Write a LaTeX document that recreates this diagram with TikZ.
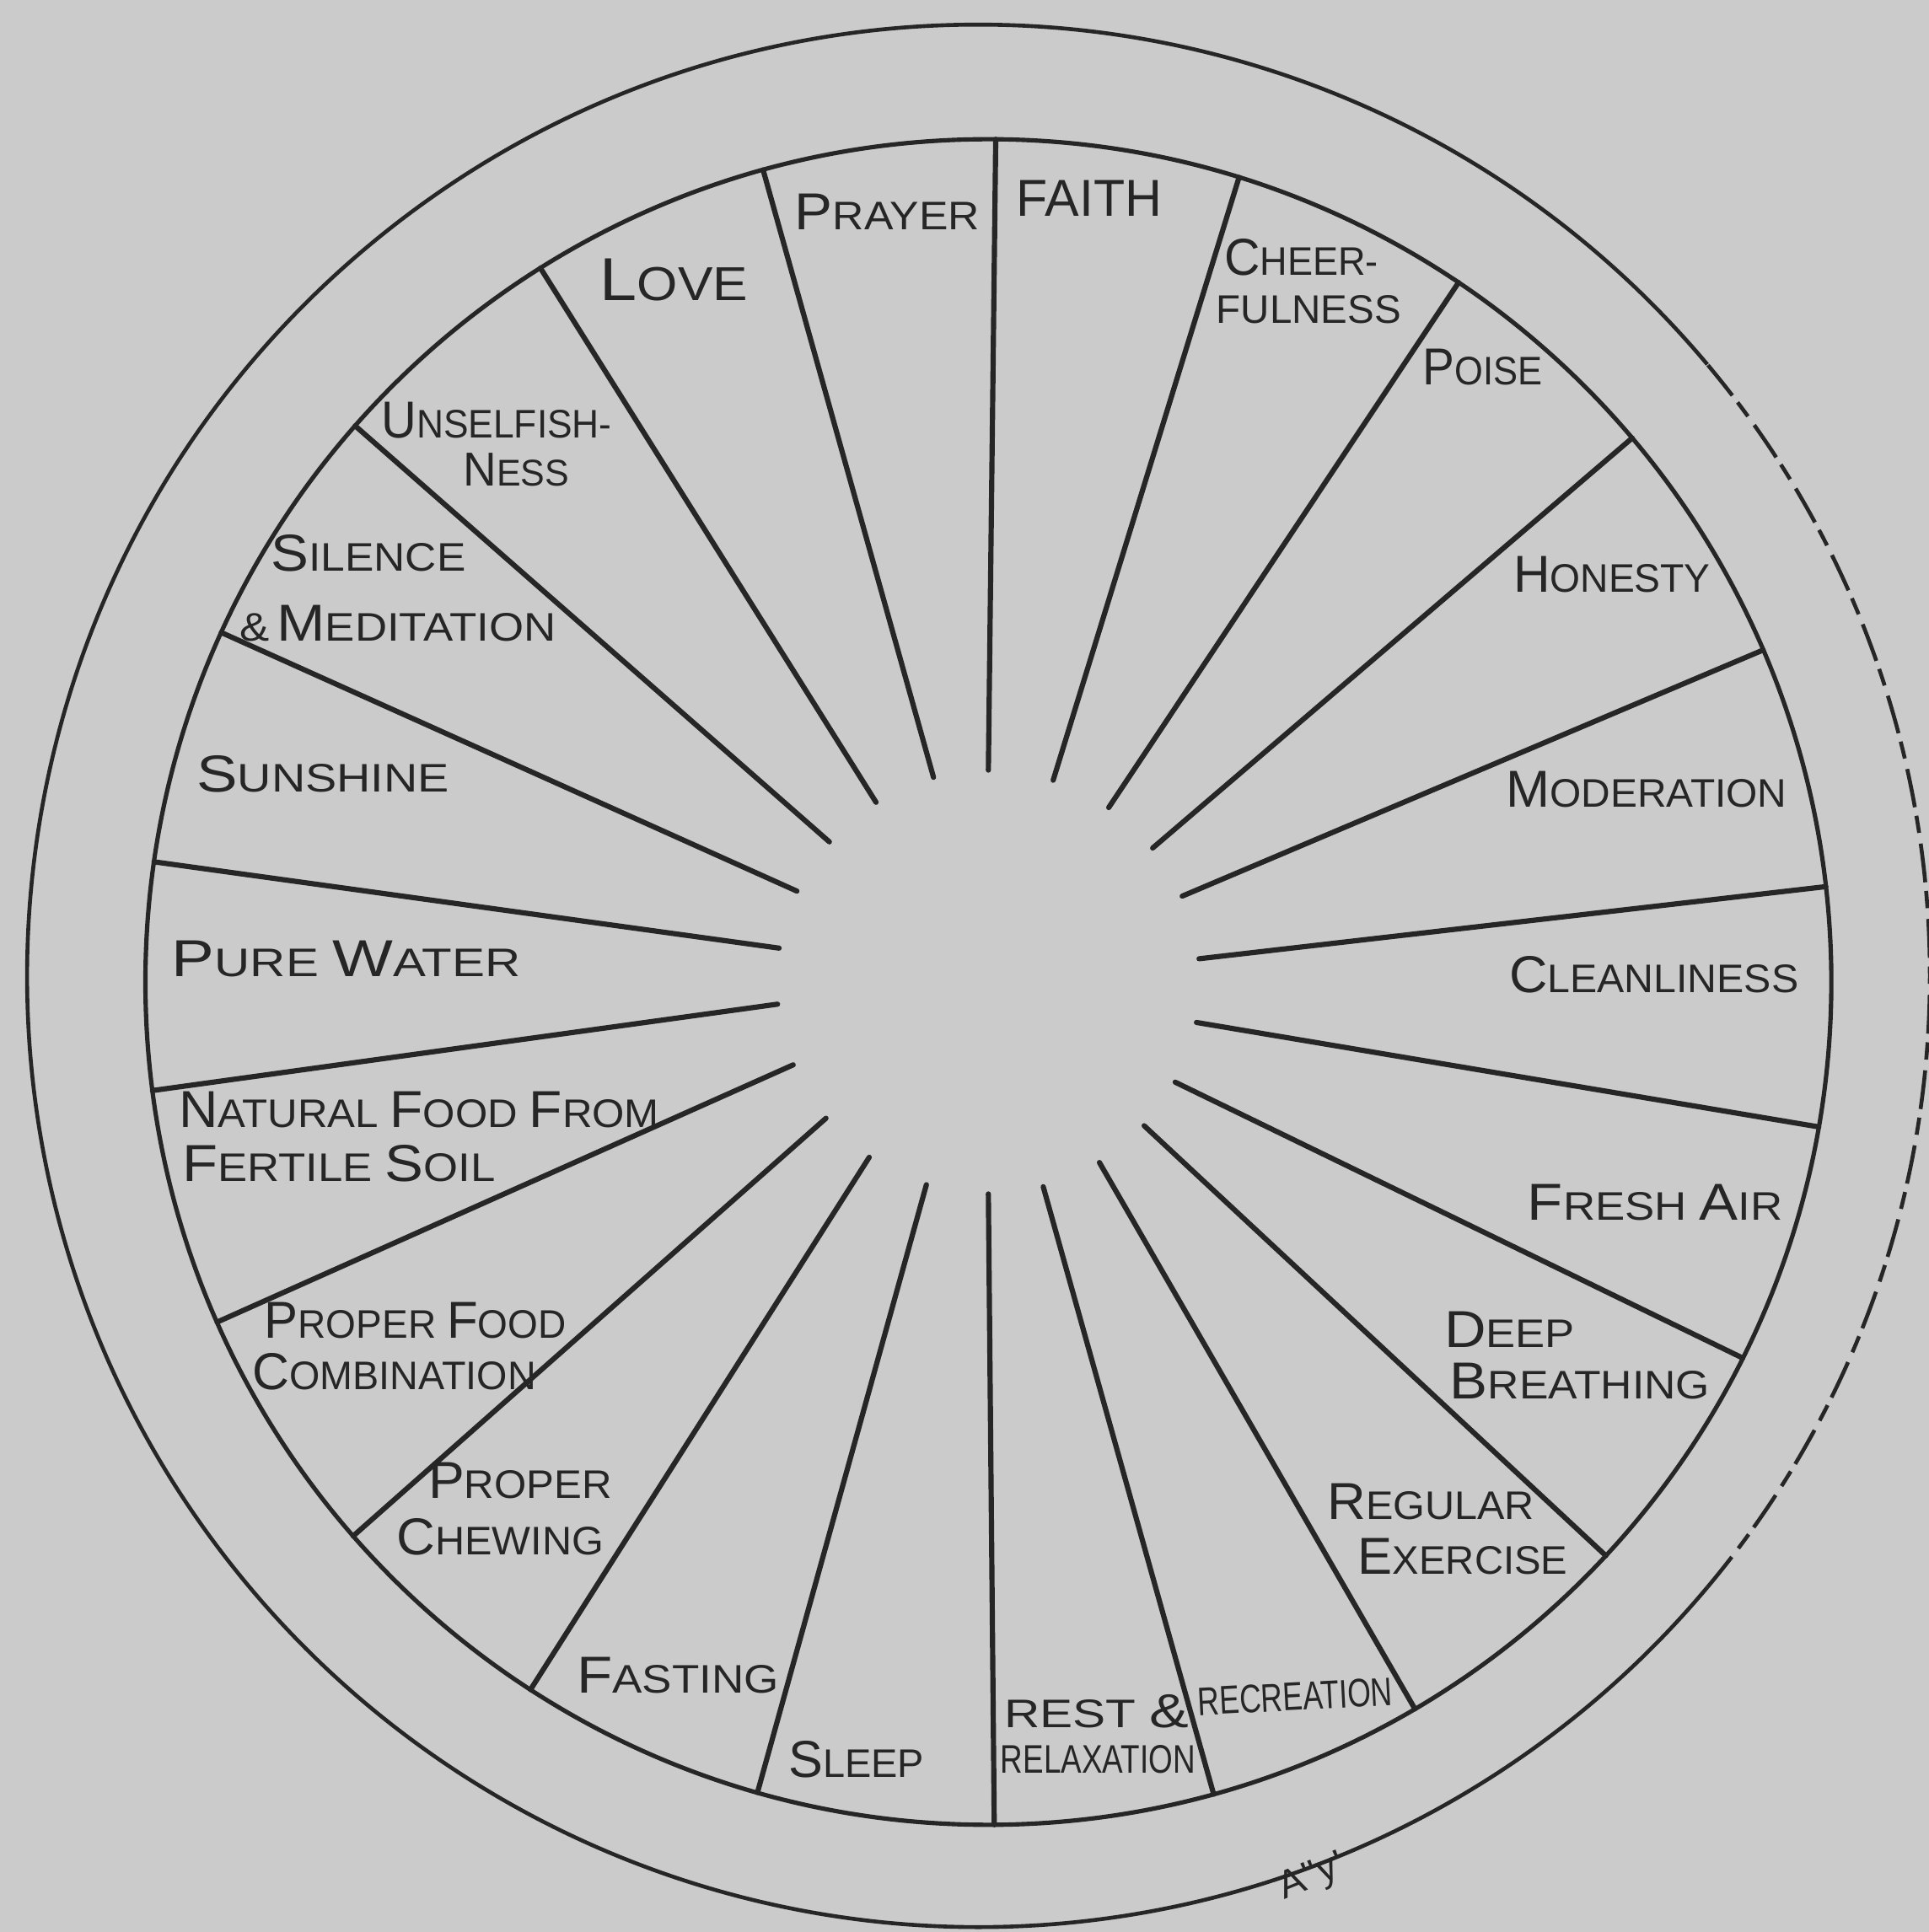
\documentclass[tikz,border=0pt]{standalone}
\usepackage{fontspec}
\setmainfont{Liberation Sans}
\usepackage{graphicx}
\newlength\pxu
\setlength\pxu{0.01cm}
\newcommand\B[1]{{\fontsize{12}{12}\selectfont #1}}
\newcommand\fit[2]{\resizebox{#1\pxu}{\height}{#2}}
\definecolor{paper}{RGB}{203,203,203}
\definecolor{ink}{RGB}{38,38,38}
\tikzset{
  lab/.style={inner sep=0pt, text=ink, font=\fontsize{9.2}{10}\selectfont},
  spoke/.style={draw=ink, line width=1.2pt, line cap=round},
  rimline/.style={draw=ink, line width=1pt},
  outerline/.style={draw=ink, line width=0.9pt}
}
\begin{document}
\begin{tikzpicture}
\useasboundingbox[fill=paper] (-8.02,-7.71) rectangle (7.63,7.97);
% outer circle
\draw[outerline] (-0.08,0.05) ++(40:7.72) arc[start angle=40, end angle=320, radius=7.72];
\draw[outerline, dash pattern=on 9pt off 2.5pt on 4pt off 2pt] (-0.08,0.05) ++(-40:7.72) arc[start angle=-40, end angle=40, radius=7.72];
% rim
\draw[rimline] (0,0) circle[radius=6.84];
% spokes
\foreach \a/\b in {90/89.5,105/105.5,122/122.1,138.6/138.7,154.6/155.5,170.8/171.8,
  186/187.4,203/203.8,220/221.1,235.8/237.1,253/254.1,270/270.4,285/285.5,
  301.6/300.4,317.3/317.1,331.8/333.5,349/350.1,6.3/6.5,23.9/23.2,39.2/40.2,
  55.4/56.1,72.2/72.7}
  \draw[spoke] (\a:1.72) -- (\b:6.84);
% labels
\node[lab] (prayer) at (-0.82,6.25) {\fit{150}{\B{P}RAYER}};
\node[lab] (faith) at (0.82,6.36) {\fit{118}{\B{FAITH}}};
\node[lab] (cheer) at (2.54,5.88) {\fit{125}{\B{C}HEER-}};
\node[lab] (fulness) at (2.60,5.46) {\fit{150}{FULNESS}};
\node[lab] (poise) at (4.01,4.99) {\fit{97}{\B{P}OISE}};
\node[lab] (honesty) at (5.06,3.31) {\fit{160}{\B{H}ONESTY}};
\node[lab] (moderation) at (5.34,1.56) {\fit{228}{\B{M}ODERATION}};
\node[lab] (cleanliness) at (5.40,0.06) {\fit{235}{\B{C}LEANLINESS}};
\node[lab] (freshair) at (5.41,-1.79) {\fit{207}{\B{F}RESH \B{A}IR}};
\node[lab] (deep) at (4.23,-2.82) {\fit{106}{\B{D}EEP}};
\node[lab] (breathing) at (4.80,-3.24) {\fit{211}{\B{B}REATHING}};
\node[lab] (regular) at (3.59,-4.22) {\fit{168}{\B{R}EGULAR}};
\node[lab] (exercise) at (3.85,-4.66) {\fit{170}{\B{E}XERCISE}};
\node[lab, rotate=3] (recreation) at (2.49,-5.80) {\fit{158}{RECREATION}};
\node[lab] (rest) at (0.88,-5.92) {\fit{150}{REST {\fontsize{11}{11}\selectfont\&}}};
\node[lab] (relaxation) at (0.89,-6.31) {\fit{158}{RELAXATION}};
\node[lab] (sleep) at (-1.07,-6.31) {\fit{110}{\B{S}LEEP}};
\node[lab] (fasting) at (-2.52,-5.63) {\fit{164}{\B{F}ASTING}};
\node[lab] (proper) at (-3.80,-4.05) {\fit{149}{\B{P}ROPER}};
\node[lab] (chewing) at (-3.96,-4.50) {\fit{168}{\B{C}HEWING}};
\node[lab] (properfood) at (-4.65,-2.75) {\fit{245}{\B{P}ROPER \B{F}OOD}};
\node[lab] (combination) at (-4.82,-3.16) {\fit{230}{\B{C}OMBINATION}};
\node[lab] (natural) at (-4.62,-1.04) {\fit{390}{\B{N}ATURAL \B{F}OOD \B{F}ROM}};
\node[lab] (fertile) at (-5.27,-1.47) {\fit{254}{\B{F}ERTILE \B{S}OIL}};
\node[lab] (purewater) at (-5.21,0.19) {\fit{283}{\B{P}URE \B{W}ATER}};
\node[lab] (sunshine) at (-5.40,1.69) {\fit{205}{\B{S}UNSHINE}};
\node[lab] (silence) at (-5.03,3.48) {\fit{158}{\B{S}ILENCE}};
\node[lab] (meditation) at (-4.79,2.91) {\fit{257}{\&\,\B{M}EDITATION}};
\node[lab] (unselfish) at (-3.99,4.56) {\fit{187}{\B{U}NSELFISH-}};
\node[lab, font=\fontsize{8.6}{9}\selectfont] (ness) at (-3.83,4.16) {\fit{86}{{\fontsize{11}{11}\selectfont N}ESS}};
\node[lab] (love) at (-2.55,5.70) {\fit{120}{{\fontsize{14}{14}\selectfont L}{\fontsize{11}{11}\selectfont OVE}}};
% signature
\node[lab, rotate=22, font=\fontsize{9}{9}\selectfont] (sig) at (2.63,-7.27) {A\textquotesingle\textquotesingle y\textquotesingle};
\end{tikzpicture}
\end{document}
